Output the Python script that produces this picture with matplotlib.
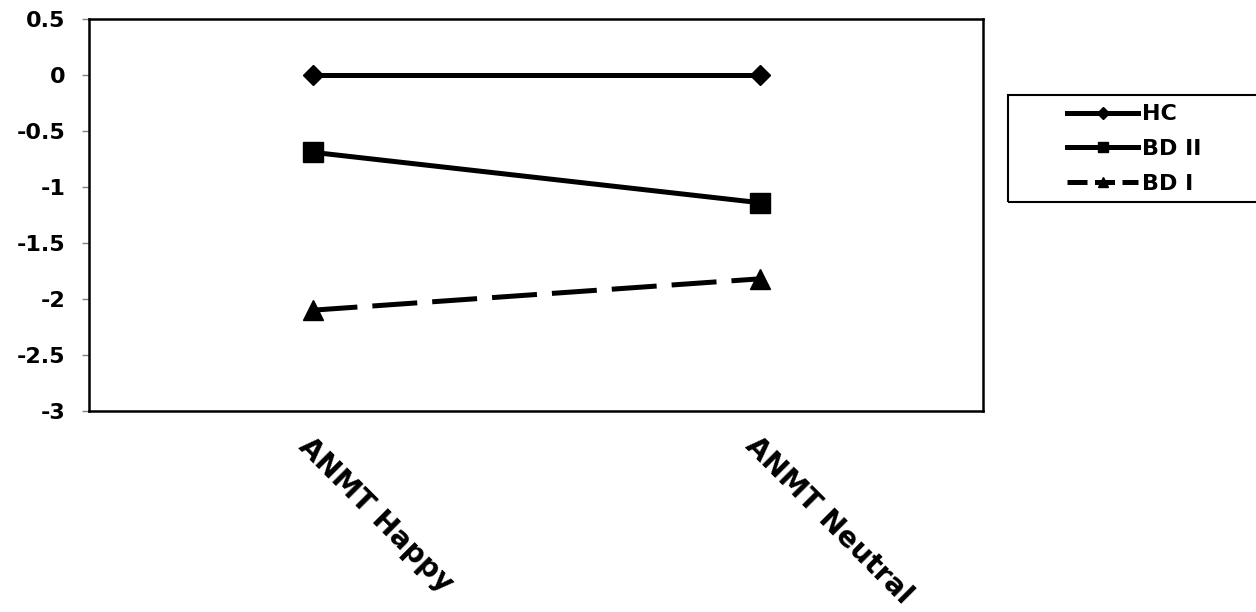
import matplotlib
matplotlib.use("Agg")
import matplotlib.pyplot as plt
from matplotlib.lines import Line2D
from matplotlib.patches import Rectangle

plt.rcParams['font.family'] = ['DejaVu Sans']
plt.rcParams['font.weight'] = 'bold'
plt.rcParams['axes.unicode_minus'] = False

categories = ['ANMT Happy', 'ANMT Neutral']
hc = [0.0, 0.0]
bd2 = [-0.69, -1.14]
bd1 = [-2.10, -1.82]
yticks = [0.5, 0, -0.5, -1, -1.5, -2, -2.5, -3]
ytick_labels = ['0.5', '0', '-0.5', '-1', '-1.5', '-2', '-2.5', '-3']

fig = plt.figure(figsize=(12.56, 6.12), dpi=100)
ax = fig.add_axes([89/1256, 1 - 411/612, (983 - 89)/1256, (411 - 19)/612])

x = range(len(categories))
lw = 3.6
ax.plot(x, hc, color='black', lw=lw, marker='D', ms=10.5, zorder=3)
ax.plot(x, bd2, color='black', lw=lw, marker='s', ms=14.5, zorder=3)
ax.plot(x, bd1, color='black', lw=lw, marker='^', ms=15, linestyle=(0, (9, 3)), zorder=3)

ax.set_xlim(-0.5, 1.5)
ax.set_ylim(-3, 0.5)
ax.set_yticks(yticks)
ax.set_yticklabels(ytick_labels, fontsize=16, fontweight='bold')
ax.set_xticks(list(x))
ax.set_xticklabels(categories, fontsize=20.5, fontweight='bold', rotation=-45,
                   ha='left', va='top', rotation_mode='anchor')
ax.tick_params(axis='x', length=0, pad=15)
ax.tick_params(axis='y', length=5, width=1, color='#808080', pad=12)
for s in ax.spines.values():
    s.set_linewidth(1.8)
    s.set_color('black')

# legend box (runs off the right edge like the original)
fig.patches.append(Rectangle((1008/1256, 1 - 202/612), 300/1256, 107/612,
                             transform=fig.transFigure, fill=False,
                             edgecolor='black', lw=1.5, clip_on=False))
handles = [
    Line2D([], [], color='black', lw=lw, marker='D', ms=6),
    Line2D([], [], color='black', lw=lw, marker='s', ms=7.5),
    Line2D([], [], color='black', lw=lw, marker='^', ms=7.5, linestyle=(0, (4, 1.5))),
]
fig.legend(handles, ['HC', 'BD II', 'BD I'], loc='upper left',
           bbox_to_anchor=(1054/1256, 1 - 91/612), frameon=False,
           prop={'size': 16, 'weight': 'bold'}, handlelength=3.2,
           handletextpad=0.15, labelspacing=0.66, borderpad=0.1)

fig.savefig('out.png', dpi=100)
